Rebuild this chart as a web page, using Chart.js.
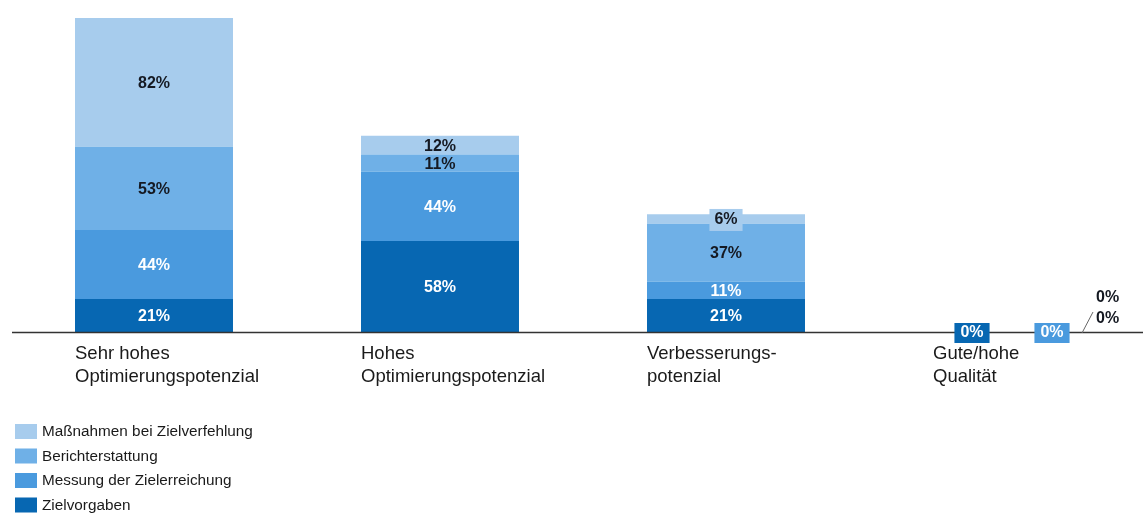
<!DOCTYPE html>
<html lang="de">
  <head>
    <meta charset="UTF-8" />
    <title>Optimierungspotenzial</title>
    <script src="https://cdn.jsdelivr.net/npm/chart.js"></script>
    <style>
      body {
        margin: 0;
        background: #fff;
        overflow: hidden;
      }
      .wrap {
        width: 1143px;
        height: 514px;
        overflow: hidden;
      }
    </style>
  </head>
  <body>
    <div class="wrap">
      <canvas id="chart" width="1160" height="514"></canvas>
    </div>

    <script>
      const categories = [
        ["Sehr hohes", "Optimierungspotenzial"],
        ["Hohes", "Optimierungspotenzial"],
        ["Verbesserungs-", "potenzial"],
        ["Gute/hohe", "Qualität"],
      ];
      const seriesNames = [
        "Zielvorgaben",
        "Messung der Zielerreichung",
        "Berichterstattung",
        "Maßnahmen bei Zielverfehlung",
      ];
      const zielvorgaben = [21, 58, 21, 0];
      const messung = [44, 44, 11, 0];
      const bericht = [53, 11, 37, 0];
      const massnahmen = [82, 12, 6, 0];

      const colors = ["#0767b2", "#4a9ade", "#6fb0e7", "#a7cced"];
      const textColors = ["#ffffff", "#ffffff", "#151922", "#151922"];
      const FONT = "'Liberation Sans', Arial, sans-serif";

      // baseline under the bars, drawn before the value labels
      const baseline = {
        id: "baseline",
        afterDatasetsDraw(chart) {
          const ctx = chart.ctx;
          const base = chart.scales.y.getPixelForValue(0);
          ctx.save();
          ctx.strokeStyle = "#333333";
          ctx.lineWidth = 1.5;
          ctx.beginPath();
          ctx.moveTo(12, base + 0.5);
          ctx.lineTo(chart.width, base + 0.5);
          ctx.stroke();
          ctx.restore();
        },
      };

      // value labels on the segments, zero values are pushed beside the baseline
      const valueLabels = {
        id: "valueLabels",
        afterDatasetsDraw(chart) {
          const ctx = chart.ctx;
          const base = chart.scales.y.getPixelForValue(0);
          ctx.save();
          ctx.font = "bold 16px " + FONT;
          ctx.textAlign = "center";
          ctx.textBaseline = "middle";
          const leader = [];
          chart.data.datasets.forEach((ds, di) => {
            const meta = chart.getDatasetMeta(di);
            meta.data.forEach((bar, i) => {
              const v = ds.data[i];
              const txt = v + "%";
              if (v === 0) {
                if (di < 2) {
                  const x = bar.x + (di === 0 ? -40 : 40);
                  const w = ctx.measureText(txt).width + 12;
                  ctx.fillStyle = colors[di];
                  ctx.fillRect(x - w / 2, base - 9, w, 20);
                  ctx.fillStyle = "#fff";
                  ctx.fillText(txt, x, base + 1);
                } else {
                  leader.push({ x: bar.x, txt });
                }
                return;
              }
              const y = (bar.y + bar.base) / 2;
              // thin segments get a small plate so the text stays readable
              if (Math.abs(bar.base - bar.y) < 14) {
                const w = ctx.measureText(txt).width + 10;
                ctx.fillStyle = colors[di];
                ctx.fillRect(bar.x - w / 2, y - 10, w, 22);
              }
              ctx.fillStyle = textColors[di];
              ctx.fillText(txt, bar.x, y + 1);
            });
          });
          if (leader.length) {
            const x = leader[0].x + 70;
            ctx.strokeStyle = "#666";
            ctx.lineWidth = 1;
            ctx.beginPath();
            ctx.moveTo(x, base + 1);
            ctx.lineTo(x + 11, base - 20);
            ctx.stroke();
            ctx.fillStyle = "#151922";
            ctx.textAlign = "left";
            leader.reverse().forEach((l, k) => {
              ctx.fillText(l.txt, x + 14, base - 34 + k * 21);
            });
          }
          ctx.restore();
        },
      };

      // category labels below the bars and a vertical legend
      const categoryAndLegend = {
        id: "categoryAndLegend",
        afterDraw(chart) {
          const ctx = chart.ctx;
          const base = chart.scales.y.getPixelForValue(0);
          ctx.save();
          const meta = chart.getDatasetMeta(0);
          ctx.fillStyle = "#1a1a1a";
          ctx.font = "18.5px " + FONT;
          ctx.textAlign = "left";
          ctx.textBaseline = "alphabetic";
          chart.data.labels.forEach((lab, i) => {
            const bar = meta.data[i];
            const left = bar.x - bar.width / 2;
            lab.forEach((line, k) => {
              ctx.fillText(line, left, base + 27 + k * 23);
            });
          });

          ctx.font = "15.3px " + FONT;
          ctx.textBaseline = "middle";
          const items = chart.data.datasets.slice().reverse();
          items.forEach((ds, k) => {
            const y = 431 + k * 24.5;
            ctx.fillStyle = ds.backgroundColor;
            ctx.fillRect(15, y - 7, 22, 15);
            ctx.fillStyle = "#1a1a1a";
            ctx.fillText(ds.label, 42, y + 1);
          });
          ctx.restore();
        },
      };

      const seriesData = [zielvorgaben, messung, bericht, massnahmen];

      new Chart(document.getElementById("chart"), {
        type: "bar",
        data: {
          labels: categories,
          datasets: seriesData.map((d, i) => ({
            label: seriesNames[i],
            data: d,
            backgroundColor: colors[i],
            borderWidth: 0,
            categoryPercentage: 1,
            barPercentage: 0.5524,
          })),
        },
        options: {
          responsive: false,
          animation: false,
          devicePixelRatio: 1,
          layout: { padding: { left: 11, right: 5, top: 18, bottom: 182 } },
          plugins: {
            legend: { display: false },
            tooltip: { enabled: false },
          },
          scales: {
            x: { stacked: true, display: false },
            y: { stacked: true, display: false, min: 0, max: 200 },
          },
        },
        plugins: [baseline, valueLabels, categoryAndLegend],
      });
    </script>
  </body>
</html>
